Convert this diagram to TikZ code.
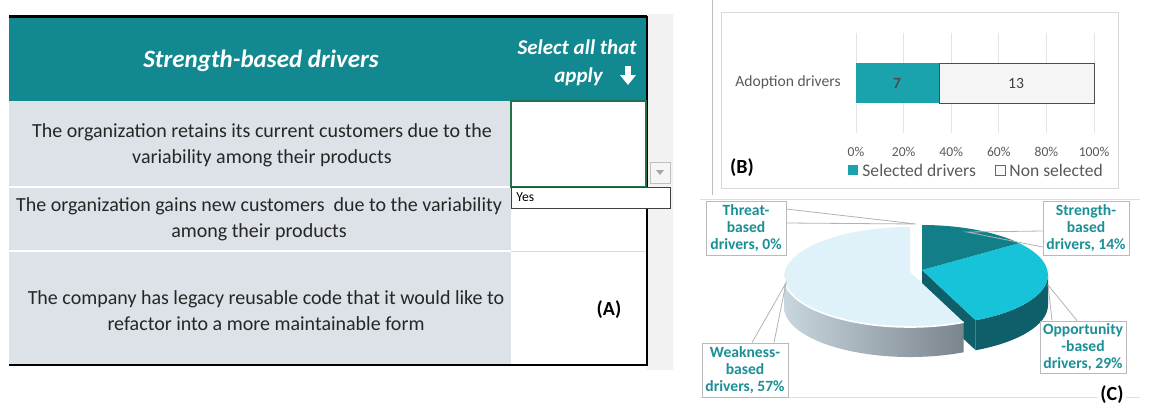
\documentclass[tikz,border=0pt]{standalone}
\usepackage{fontspec}
\setmainfont{Carlito}
\usetikzlibrary{positioning}

\definecolor{hdrteal}{RGB}{18,137,145}
\definecolor{rowgrey}{RGB}{221,225,232}
\definecolor{barteal}{RGB}{26,163,172}
\definecolor{lbltext}{RGB}{27,143,150}
\definecolor{strteal}{RGB}{18,127,136}
\definecolor{oppcyan}{RGB}{23,195,216}
\definecolor{oppside}{RGB}{14,95,105}
\definecolor{wkntop}{RGB}{223,242,250}
\definecolor{wknlight}{RGB}{200,214,222}
\definecolor{wkndark}{RGB}{122,132,140}
\definecolor{axisgrey}{RGB}{89,89,89}
\definecolor{xlgreen}{RGB}{33,115,70}

\tikzset{
  rowtext/.style={font=\fontsize{10}{13}\selectfont, text=black!85, align=center},
  hdrtext/.style={font=\fontsize{12.5}{13}\selectfont\bfseries\itshape, text=white},
  seltext/.style={font=\fontsize{10.5}{11}\selectfont\bfseries\itshape, text=white, inner sep=0pt, anchor=east},
  axislbl/.style={font=\fontsize{6.8}{8}\selectfont, text=axisgrey},
  legtext/.style={anchor=west, font=\fontsize{8.8}{9}\selectfont, text=axisgrey, inner sep=0pt},
  pielbl/.style={draw=gray!55, fill=white, align=center, inner sep=0pt,
    minimum width=43pt, minimum height=27pt,
    font=\fontsize{7.8}{8.6}\selectfont\bfseries, text=lbltext},
  callout/.style={draw=gray!60, line width=0.4pt},
  panel/.style={font=\fontsize{10}{10}\selectfont\bfseries},
  pie arc/.style={x radius=126, y radius=50},
}

\begin{document}
\begin{tikzpicture}[x=0.5pt,y=-0.5pt]
  \useasboundingbox (0,0) rectangle (1149,408);

  % (A) the sheet
  \fill[gray!10] (647,14) rectangle (673,370);
  \fill[hdrteal] (9,16) rectangle (647,101);
  \fill[rowgrey] (9,101) rectangle (511,364);
  \draw[white, line width=1pt] (9,187) -- (511,187);
  \draw[white, line width=1pt] (9,251) -- (511,251);
  \draw[gray!30] (511,251) -- (647,251);
  \draw[line width=1.5pt] (9,16) -- (647,16);
  \draw[line width=1pt] (647,16) -- (647,365) -- (9,365);

  \node[hdrtext] (hdr) at (261,61) {Strength-based drivers};
  \node[seltext] (sel) at (637,47) {Select all that};
  \node[seltext] (apply) at (603,77) {apply};
  \fill[white] (625,66) rectangle (631,76);
  \fill[white] (620,75) -- (636,75) -- (628,85) -- cycle;

  \node[rowtext] (row1) at (262,145) {The organization retains its current customers due to the\\variability among their products};
  \node[rowtext] (row2) at (259,219) {The organization gains new customers\ \ due to the variability\\among their products};
  \node[rowtext] (row3) at (266,311) {The company has legacy reusable code that it would like to\\refactor into a more maintainable form};

  \draw[xlgreen, line width=0.8pt] (511,101) rectangle (646,187);
  \draw[gray!50, fill=gray!8] (650,162) rectangle (670,183);
  \fill[gray!70] (656,170) -- (664,170) -- (660,175) -- cycle;
  \draw[black!75, fill=white] (511,187) rectangle (670,208);
  \node[anchor=west, font=\fontsize{6.8}{7}\selectfont, inner sep=0pt] (yes) at (516,197) {Yes};
  \node[panel] (pa) at (609,310) {(A)};

  % (B) bar chart
  \draw[gray!50] (712,0) -- (712,195);
  \draw[gray!25] (700,199) -- (1140,199);
  \draw[gray!30] (721,12) rectangle (1118,188);
  \foreach \p [count=\i from 0] in {0\%,20\%,40\%,60\%,80\%,100\%} {
    \draw[gray!20] ({856+47.6*\i},33) -- ({856+47.6*\i},133);
    \node[axislbl] (tick\i) at ({856+47.6*\i},152) {\p};
  }
  \fill[barteal] (856,63) rectangle (939,103);
  \draw[black!70, fill=gray!8] (939,63) rectangle (1094,103);
  \node[font=\fontsize{7.8}{8}\selectfont\bfseries, text=black!70] (seven) at (897,83) {7};
  \node[font=\fontsize{7.8}{8}\selectfont, text=black!75] (thirteen) at (1016,83) {13};
  \node[font=\fontsize{7.8}{8}\selectfont, text=axisgrey] (adopt) at (788,82) {Adoption drivers};
  \fill[barteal] (848,165) rectangle (858,175);
  \node[legtext] (legsel) at (862,170) {Selected drivers};
  \draw[black!60, fill=gray!5] (995,165) rectangle (1005,175);
  \node[legtext] (legnon) at (1009,170) {Non selected};
  \node[panel, fill=white, inner sep=1pt] (pb) at (742,168) {(B)};

  % (C) pie chart
  \draw[gray!25] (700,397) -- (1140,397);
  \begin{scope}[shift={(922,275)}, yscale=-1]
    \fill[oppside] (0,5) -- (-64.8:126 and 50) -- ++(0,-30) -- (0,-25) -- cycle;
    \fill[oppside] (-64.8:126 and 50) arc[start angle=-64.8, end angle=0, pie arc]
      -- ++(0,-30) arc[start angle=0, end angle=-64.8, pie arc] -- cycle;
  \end{scope}
  \begin{scope}[shift={(910,277)}, yscale=-1]
    \shade[left color=wknlight, right color=wkndark] (180:126 and 50)
      arc[start angle=180, end angle=295.2, pie arc]
      -- ++(0,-30) arc[start angle=295.2, end angle=180, pie arc] -- cycle;
    \fill[wkntop] (0,5) -- (90:126 and 50)
      arc[start angle=90, end angle=295.2, pie arc] -- cycle;
    \draw[white, line width=0.8pt] (180:126 and 50) arc[start angle=180, end angle=295.2, pie arc];
  \end{scope}
  \begin{scope}[shift={(922,275)}, yscale=-1]
    \fill[oppcyan] (0,5) -- (-64.8:126 and 50)
      arc[start angle=-64.8, end angle=39.6, pie arc] -- cycle;
    \fill[strteal] (0,5) -- (39.6:126 and 50)
      arc[start angle=39.6, end angle=90, pie arc] -- cycle;
  \end{scope}

  \coordinate (thrtip) at (916,224);
  \coordinate (wkntip) at (786,283);
  \coordinate (strtip) at (967,232);
  \coordinate (opptip) at (1048,285);

  \node[pielbl, minimum width=40pt] (thr) at (746,228) {Threat-\\based\\drivers, 0\%};
  \node[pielbl] (wkn) at (745,370) {Weakness-\\based\\drivers, 57\%};
  \node[pielbl] (str) at (1086,228) {Strength-\\based\\drivers, 14\%};
  \node[pielbl, minimum height=26pt] (opp) at (1083,347) {Opportunity\\-based\\drivers, 29\%};

  \draw[callout] (thr.east |- 0,209) -- (thrtip) -- (thr.east |- 0,223);
  \draw[callout] (wkn.north -| 752,0) -- (wkntip) -- (wkn.north -| 774,0);
  \draw[callout] (str.west |- 0,231) -- (strtip) -- (str.west |- 0,247);
  \draw[callout] (opp.north -| 1052,0) -- (opptip) -- (opp.north -| 1077,0);

  \node[panel, fill=white, inner sep=1pt] (pc) at (1112,395) {(C)};
\end{tikzpicture}
\end{document}
